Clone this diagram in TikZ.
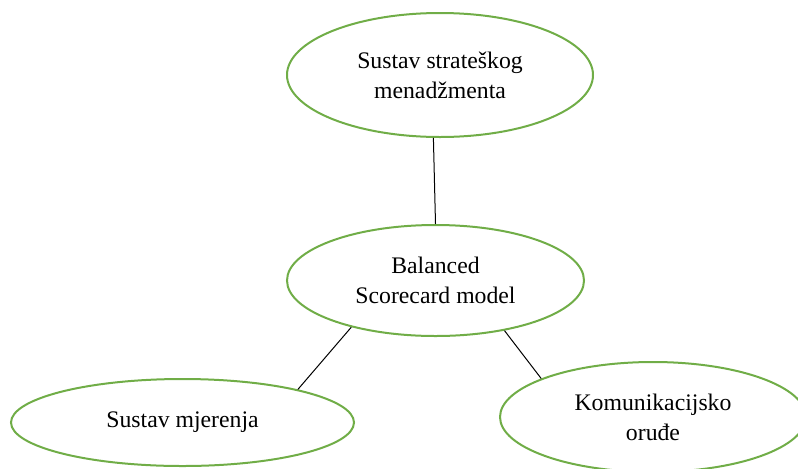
\documentclass[tikz,border=0pt]{standalone}
\usepackage{fontspec}
\setmainfont{Liberation Serif}
\usetikzlibrary{shapes.geometric}

\definecolor{ovalgreen}{HTML}{70AD47}

\begin{document}
\begin{tikzpicture}[x=0.75pt, y=-0.75pt,
		main/.style = {draw=ovalgreen, line width=1.5pt, ellipse, inner sep=0pt, align=center,
			font=\fontsize{17.8}{22.5}\selectfont},
		link/.style = {line width=0.75pt}]
		\useasboundingbox (0,0) rectangle (798,468);
		\node[main, minimum width=229.5pt, minimum height=93pt] (1) at (440,75) {Sustav strateškog\\menadžmenta};
		\node[main, minimum width=222.75pt, minimum height=83.25pt] (2) at (435.5,280.5) {Balanced\\Scorecard model};
		\node[main, minimum width=257.25pt, minimum height=65.25pt] (3) at (182.5,422.5) {Sustav mjerenja};
		\node[main, minimum width=229.5pt, minimum height=82.5pt] (4) at (653,417) {Komunikacijsko\\oruđe};
		\draw[link] (1.264.5) -- (2.90);
		\draw[link] (2.209.5) -- (3.16);
		\draw[link] (2.324) -- (4.161.7);
	\end{tikzpicture}
\end{document}
